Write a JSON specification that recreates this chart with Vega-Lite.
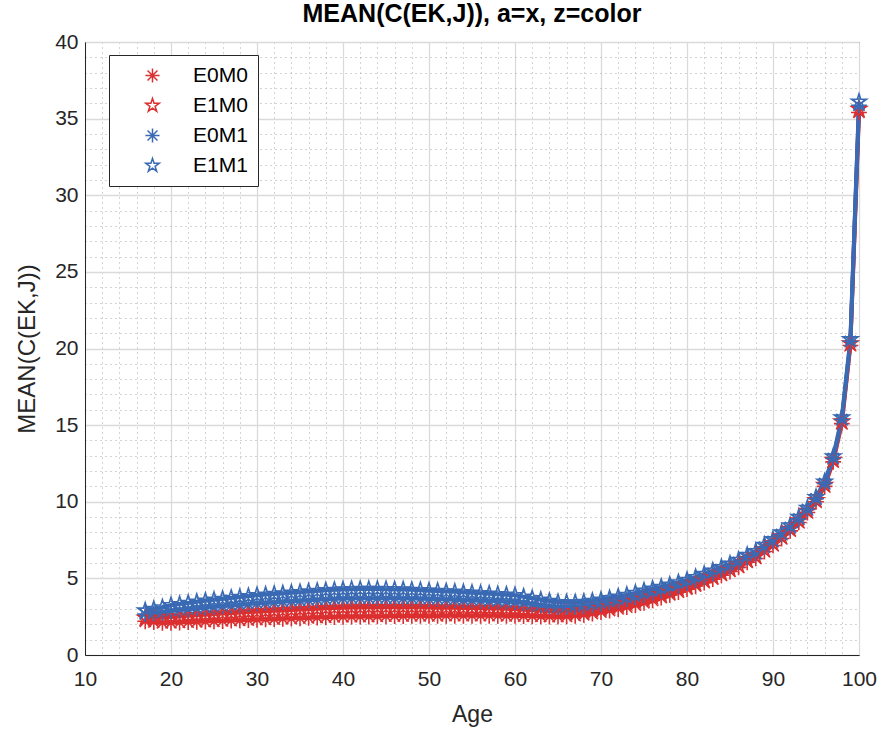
{
  "$schema": "https://vega.github.io/schema/vega-lite/v6.json",
  "width": 774,
  "height": 613,
  "autosize": {"type": "none"},
  "padding": {"left": 85, "top": 42, "right": 23, "bottom": 82},
  "background": "white",
  "title": {"text": "MEAN(C(EK,J)), a=x, z=color", "font": "Liberation Sans", "fontSize": 25, "fontWeight": "bold", "color": "#000000", "offset": 4, "anchor": "middle"},
  "config": {
    "view": {"stroke": "#262626", "strokeWidth": 1},
    "font": "Liberation Sans"
  },
  "data": {"values": [
    {"age":17,"E0M0":2.2,"E1M0":2.43,"E0M1":2.67,"E1M1":2.9},
    {"age":18,"E0M0":2.15,"E1M0":2.43,"E0M1":2.72,"E1M1":3.0},
    {"age":19,"E0M0":2.1,"E1M0":2.43,"E0M1":2.77,"E1M1":3.1},
    {"age":20,"E0M0":2.1,"E1M0":2.48,"E0M1":2.87,"E1M1":3.25},
    {"age":21,"E0M0":2.12,"E1M0":2.52,"E0M1":2.92,"E1M1":3.32},
    {"age":22,"E0M0":2.14,"E1M0":2.56,"E0M1":2.98,"E1M1":3.4},
    {"age":23,"E0M0":2.16,"E1M0":2.6,"E0M1":3.03,"E1M1":3.47},
    {"age":24,"E0M0":2.18,"E1M0":2.63,"E0M1":3.09,"E1M1":3.54},
    {"age":25,"E0M0":2.2,"E1M0":2.67,"E0M1":3.13,"E1M1":3.6},
    {"age":26,"E0M0":2.22,"E1M0":2.7,"E0M1":3.18,"E1M1":3.66},
    {"age":27,"E0M0":2.24,"E1M0":2.73,"E0M1":3.23,"E1M1":3.72},
    {"age":28,"E0M0":2.26,"E1M0":2.77,"E0M1":3.27,"E1M1":3.78},
    {"age":29,"E0M0":2.28,"E1M0":2.8,"E0M1":3.32,"E1M1":3.84},
    {"age":30,"E0M0":2.3,"E1M0":2.83,"E0M1":3.37,"E1M1":3.9},
    {"age":31,"E0M0":2.32,"E1M0":2.86,"E0M1":3.4,"E1M1":3.94},
    {"age":32,"E0M0":2.34,"E1M0":2.89,"E0M1":3.43,"E1M1":3.98},
    {"age":33,"E0M0":2.36,"E1M0":2.91,"E0M1":3.47,"E1M1":4.02},
    {"age":34,"E0M0":2.38,"E1M0":2.94,"E0M1":3.5,"E1M1":4.06},
    {"age":35,"E0M0":2.4,"E1M0":2.97,"E0M1":3.53,"E1M1":4.1},
    {"age":36,"E0M0":2.42,"E1M0":2.99,"E0M1":3.57,"E1M1":4.14},
    {"age":37,"E0M0":2.44,"E1M0":3.02,"E0M1":3.6,"E1M1":4.18},
    {"age":38,"E0M0":2.46,"E1M0":3.05,"E0M1":3.63,"E1M1":4.22},
    {"age":39,"E0M0":2.48,"E1M0":3.07,"E0M1":3.66,"E1M1":4.25},
    {"age":40,"E0M0":2.49,"E1M0":3.08,"E0M1":3.68,"E1M1":4.27},
    {"age":41,"E0M0":2.5,"E1M0":3.1,"E0M1":3.69,"E1M1":4.29},
    {"age":42,"E0M0":2.5,"E1M0":3.1,"E0M1":3.7,"E1M1":4.3},
    {"age":43,"E0M0":2.51,"E1M0":3.11,"E0M1":3.7,"E1M1":4.3},
    {"age":44,"E0M0":2.52,"E1M0":3.11,"E0M1":3.71,"E1M1":4.3},
    {"age":45,"E0M0":2.53,"E1M0":3.12,"E0M1":3.7,"E1M1":4.29},
    {"age":46,"E0M0":2.54,"E1M0":3.12,"E0M1":3.7,"E1M1":4.28},
    {"age":47,"E0M0":2.54,"E1M0":3.12,"E0M1":3.69,"E1M1":4.27},
    {"age":48,"E0M0":2.55,"E1M0":3.12,"E0M1":3.68,"E1M1":4.25},
    {"age":49,"E0M0":2.55,"E1M0":3.11,"E0M1":3.67,"E1M1":4.23},
    {"age":50,"E0M0":2.55,"E1M0":3.1,"E0M1":3.65,"E1M1":4.2},
    {"age":51,"E0M0":2.55,"E1M0":3.09,"E0M1":3.64,"E1M1":4.18},
    {"age":52,"E0M0":2.56,"E1M0":3.09,"E0M1":3.62,"E1M1":4.15},
    {"age":53,"E0M0":2.56,"E1M0":3.08,"E0M1":3.6,"E1M1":4.12},
    {"age":54,"E0M0":2.56,"E1M0":3.07,"E0M1":3.58,"E1M1":4.09},
    {"age":55,"E0M0":2.56,"E1M0":3.06,"E0M1":3.56,"E1M1":4.06},
    {"age":56,"E0M0":2.56,"E1M0":3.05,"E0M1":3.54,"E1M1":4.03},
    {"age":57,"E0M0":2.56,"E1M0":3.04,"E0M1":3.52,"E1M1":4.0},
    {"age":58,"E0M0":2.56,"E1M0":3.03,"E0M1":3.5,"E1M1":3.97},
    {"age":59,"E0M0":2.55,"E1M0":3.01,"E0M1":3.47,"E1M1":3.93},
    {"age":60,"E0M0":2.55,"E1M0":3.0,"E0M1":3.45,"E1M1":3.9},
    {"age":61,"E0M0":2.54,"E1M0":2.96,"E0M1":3.38,"E1M1":3.8},
    {"age":62,"E0M0":2.53,"E1M0":2.92,"E0M1":3.31,"E1M1":3.7},
    {"age":63,"E0M0":2.52,"E1M0":2.88,"E0M1":3.24,"E1M1":3.6},
    {"age":64,"E0M0":2.51,"E1M0":2.85,"E0M1":3.18,"E1M1":3.52},
    {"age":65,"E0M0":2.5,"E1M0":2.82,"E0M1":3.13,"E1M1":3.45},
    {"age":66,"E0M0":2.52,"E1M0":2.82,"E0M1":3.13,"E1M1":3.43},
    {"age":67,"E0M0":2.56,"E1M0":2.85,"E0M1":3.14,"E1M1":3.43},
    {"age":68,"E0M0":2.62,"E1M0":2.9,"E0M1":3.18,"E1M1":3.46},
    {"age":69,"E0M0":2.7,"E1M0":2.97,"E0M1":3.25,"E1M1":3.52},
    {"age":70,"E0M0":2.8,"E1M0":3.07,"E0M1":3.33,"E1M1":3.6},
    {"age":71,"E0M0":2.9,"E1M0":3.17,"E0M1":3.43,"E1M1":3.7},
    {"age":72,"E0M0":3.0,"E1M0":3.27,"E0M1":3.53,"E1M1":3.8},
    {"age":73,"E0M0":3.12,"E1M0":3.39,"E0M1":3.65,"E1M1":3.92},
    {"age":74,"E0M0":3.25,"E1M0":3.52,"E0M1":3.78,"E1M1":4.05},
    {"age":75,"E0M0":3.4,"E1M0":3.67,"E0M1":3.93,"E1M1":4.2},
    {"age":76,"E0M0":3.56,"E1M0":3.81,"E0M1":4.07,"E1M1":4.32},
    {"age":77,"E0M0":3.74,"E1M0":3.97,"E0M1":4.21,"E1M1":4.44},
    {"age":78,"E0M0":3.92,"E1M0":4.14,"E0M1":4.36,"E1M1":4.58},
    {"age":79,"E0M0":4.1,"E1M0":4.31,"E0M1":4.52,"E1M1":4.73},
    {"age":80,"E0M0":4.3,"E1M0":4.5,"E0M1":4.7,"E1M1":4.9},
    {"age":81,"E0M0":4.5,"E1M0":4.69,"E0M1":4.89,"E1M1":5.08},
    {"age":82,"E0M0":4.72,"E1M0":4.91,"E0M1":5.09,"E1M1":5.28},
    {"age":83,"E0M0":4.95,"E1M0":5.13,"E0M1":5.32,"E1M1":5.5},
    {"age":84,"E0M0":5.2,"E1M0":5.37,"E0M1":5.55,"E1M1":5.72},
    {"age":85,"E0M0":5.45,"E1M0":5.62,"E0M1":5.78,"E1M1":5.95},
    {"age":86,"E0M0":5.72,"E1M0":5.88,"E0M1":6.04,"E1M1":6.2},
    {"age":87,"E0M0":6.05,"E1M0":6.21,"E0M1":6.36,"E1M1":6.52},
    {"age":88,"E0M0":6.3,"E1M0":6.46,"E0M1":6.61,"E1M1":6.77},
    {"age":89,"E0M0":6.75,"E1M0":6.89,"E0M1":7.04,"E1M1":7.18},
    {"age":90,"E0M0":7.15,"E1M0":7.28,"E0M1":7.42,"E1M1":7.55},
    {"age":91,"E0M0":7.6,"E1M0":7.73,"E0M1":7.87,"E1M1":8.0},
    {"age":92,"E0M0":8.1,"E1M0":8.22,"E0M1":8.33,"E1M1":8.45},
    {"age":93,"E0M0":8.65,"E1M0":8.77,"E0M1":8.88,"E1M1":9.0},
    {"age":94,"E0M0":9.3,"E1M0":9.4,"E0M1":9.5,"E1M1":9.6},
    {"age":95,"E0M0":10.0,"E1M0":10.1,"E0M1":10.2,"E1M1":10.3},
    {"age":96,"E0M0":11.0,"E1M0":11.1,"E0M1":11.2,"E1M1":11.3},
    {"age":97,"E0M0":12.6,"E1M0":12.72,"E0M1":12.83,"E1M1":12.95},
    {"age":98,"E0M0":15.1,"E1M0":15.23,"E0M1":15.37,"E1M1":15.5},
    {"age":99,"E0M0":20.2,"E1M0":20.33,"E0M1":20.47,"E1M1":20.6},
    {"age":100,"E0M0":35.4,"E1M0":35.63,"E0M1":35.87,"E1M1":36.1}
  ]},
  "transform": [{"fold": ["E0M0", "E1M0", "E0M1", "E1M1"], "as": ["series", "value"]}],
  "encoding": {
    "x": {
      "field": "age", "type": "quantitative",
      "scale": {"domain": [10, 100], "nice": false, "zero": false},
      "axis": {
        "title": "Age", "titleFont": "Liberation Sans", "titleFontSize": 23, "titleFontWeight": "normal", "titleColor": "#262626", "titlePadding": 14,
        "values": [10,12,14,16,18,20,22,24,26,28,30,32,34,36,38,40,42,44,46,48,50,52,54,56,58,60,62,64,66,68,70,72,74,76,78,80,82,84,86,88,90,92,94,96,98,100],
        "labelExpr": "datum.value % 10 === 0 ? datum.label : ''",
        "labelFont": "Liberation Sans", "labelFontSize": 21, "labelColor": "#262626", "labelPadding": 13, "labelFlush": false,
        "domainColor": "#262626", "domainWidth": 1,
        "ticks": false,
        "grid": true,
        "gridColor": {"condition": {"test": "datum.value % 10 === 0", "value": "#dadada"}, "value": "#a8a8a8"},
        "gridDash": {"condition": {"test": "datum.value % 10 === 0", "value": [1, 0]}, "value": [1, 4]},
        "gridWidth": {"condition": {"test": "datum.value % 10 === 0", "value": 1.3}, "value": 1}
      }
    },
    "y": {
      "field": "value", "type": "quantitative",
      "scale": {"domain": [0, 40], "nice": false},
      "axis": {
        "title": "MEAN(C(EK,J))", "titleFont": "Liberation Sans", "titleFontSize": 24, "titleFontWeight": "normal", "titleColor": "#262626", "titlePadding": 15,
        "values": [0,1,2,3,4,5,6,7,8,9,10,11,12,13,14,15,16,17,18,19,20,21,22,23,24,25,26,27,28,29,30,31,32,33,34,35,36,37,38,39,40],
        "labelExpr": "datum.value % 5 === 0 ? datum.label : ''",
        "labelFont": "Liberation Sans", "labelFontSize": 21, "labelColor": "#262626", "labelPadding": 7, "labelFlush": false,
        "domainColor": "#262626", "domainWidth": 1,
        "ticks": false,
        "grid": true,
        "gridColor": {"condition": {"test": "datum.value % 5 === 0", "value": "#dadada"}, "value": "#a8a8a8"},
        "gridDash": {"condition": {"test": "datum.value % 5 === 0", "value": [1, 0]}, "value": [1, 4]},
        "gridWidth": {"condition": {"test": "datum.value % 5 === 0", "value": 1.3}, "value": 1}
      }
    },
    "color": {
      "field": "series", "type": "nominal",
      "scale": {"domain": ["E0M0", "E1M0", "E0M1", "E1M1"], "range": ["#dc2f2f", "#dc2f2f", "#3a6ab4", "#3a6ab4"]},
      "legend": {
        "title": null, "orient": "none", "legendX": 24, "legendY": 13,
        "strokeColor": "#262626", "fillColor": "white", "padding": 10,
        "labelFont": "Liberation Sans", "labelFontSize": 21, "labelColor": "#000000",
        "symbolOffset": 23, "labelOffset": 30, "rowPadding": 8,
        "symbolSize": 200, "symbolStrokeWidth": 1.5
      }
    }
  },
  "layer": [
    {
      "mark": {"type": "line", "strokeWidth": 4},
      "encoding": {"detail": {"field": "series"}}
    },
    {
      "mark": {"type": "point", "filled": false, "size": 250, "strokeWidth": 1.6, "opacity": 1},
      "encoding": {
        "shape": {
          "field": "series", "type": "nominal",
          "scale": {"domain": ["E0M0", "E1M0", "E0M1", "E1M1"], "range": ["M-1,0L1,0M0,-1L0,1M-0.7,-0.7L0.7,0.7M-0.7,0.7L0.7,-0.7", "M0,-1L0.225,-0.309L0.951,-0.309L0.363,0.118L0.588,0.809L0,0.382L-0.588,0.809L-0.363,0.118L-0.951,-0.309L-0.225,-0.309Z", "M-1,0L1,0M0,-1L0,1M-0.7,-0.7L0.7,0.7M-0.7,0.7L0.7,-0.7", "M0,-1L0.225,-0.309L0.951,-0.309L0.363,0.118L0.588,0.809L0,0.382L-0.588,0.809L-0.363,0.118L-0.951,-0.309L-0.225,-0.309Z"]},
          "legend": {"title": null}
        }
      }
    }
  ]
}
